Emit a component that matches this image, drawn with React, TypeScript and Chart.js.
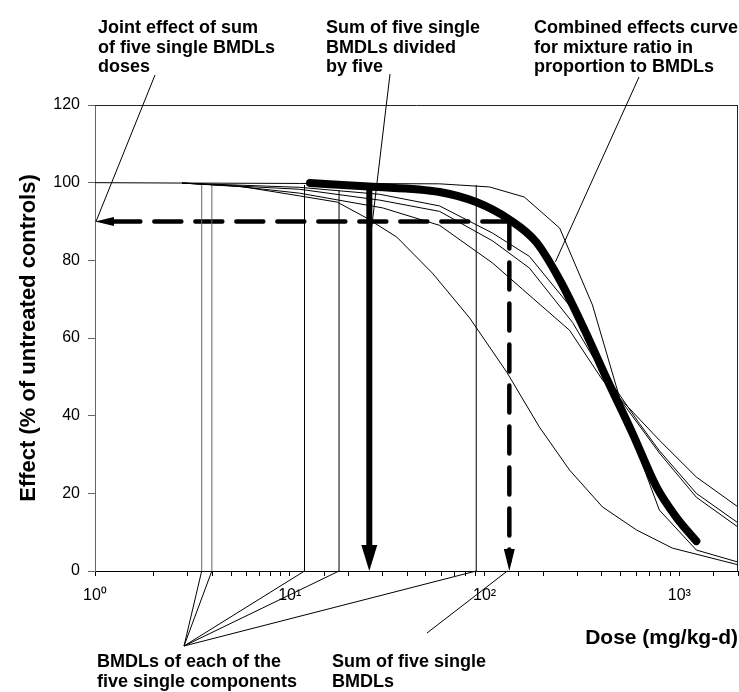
import React, { useEffect, useRef } from "react";
import { Chart, registerables } from "chart.js";

Chart.register(...registerables);

// ---- Data ----
// Five single-component dose-response curves (dose mg/kg-d, effect %)
const curveADose = [2.8, 5.5, 11.2, 17.5, 24.8, 35.4, 54, 84, 130, 191, 273, 403, 601, 920, 2000];
const curveAValue = [99.9, 99.1, 96.6, 95.0, 90.9, 86.0, 76.7, 65.1, 51.2, 37.1, 26.0, 16.5, 10.6, 5.9, 1.6];

const curveBDose = [2.8, 5.5, 11.2, 30, 58.8, 110, 157, 273, 403, 789, 1222, 2000];
const curveBValue = [99.9, 99.0, 97.3, 93.5, 89.0, 79.3, 72.5, 62.0, 49.2, 33.7, 24.2, 16.5];

const curveCDose = [2.8, 11.2, 29, 58.8, 110, 170, 283, 437, 623, 789, 1222, 2000];
const curveCValue = [99.9, 98.8, 97.0, 94.0, 87.0, 81.0, 67.4, 49.2, 38.0, 31.0, 20.0, 12.4];

const curveDDose = [2.8, 11.2, 29, 58.8, 110, 170, 283, 437, 789, 1222, 2000];
const curveDValue = [99.9, 98.3, 95.5, 92.6, 85.0, 78.0, 64.0, 48.0, 30.4, 19.0, 11.3];

const curveEDose = [1, 2.8, 11.2, 58.8, 106, 160, 243, 358, 535, 789, 1222, 2000];
const curveEValue = [100, 99.9, 99.8, 99.7, 98.9, 96.3, 88.3, 68.5, 38.6, 15.7, 5.4, 2.3];

// Combined effects curve for the mixture
const combinedDose = [12.7, 25.4, 58.8, 90.6, 134, 184, 243, 326, 422, 574, 764, 963, 1222];
const combinedValue = [99.9, 99.0, 97.6, 95.0, 90.5, 84.7, 75.0, 62.1, 49.7, 35.5, 21.6, 13.9, 7.7];

// BMDLs of the five single components (dose) and the effect reached by their drop lines
const bmdlDoses = [3.53, 3.98, 11.9, 17.9, 90.6];
const bmdlTops = [99.4, 99.4, 99.4, 98.1, 99.4];

// Sum of BMDLs, sum divided by five, and the joint effect level
const sumDose = 134;
const sumDiv5Dose = 25.6;
const sumDiv5Top = 99.3;
const jointEffect = 90;
const axisMinDose = 1;

// Ticks and labels
const xTickLabels = ["10\u2070", "10\u00B9", "10\u00B2", "10\u00B3"];
const yTickStep = 20;
const xTitle = "Dose (mg/kg-d)";
const yTitle = "Effect (% of untreated controls)";

// Annotation texts
const noteJoint = ["Joint effect of sum", "of five single BMDLs", "doses"];
const noteDiv5 = ["Sum of five single", "BMDLs divided", "by five"];
const noteCombined = ["Combined effects curve", "for mixture ratio in", "proportion to BMDLs"];
const noteBmdls = ["BMDLs of each of the", "five single components"];
const noteSum = ["Sum of five single", "BMDLs"];

function pts(d: number[], v: number[]) {
  return d.map((x, i) => ({ x, y: v[i] }));
}

export default function App() {
  const ref = useRef<HTMLCanvasElement>(null);

  useEffect(() => {
    if (!ref.current) return;
    Chart.defaults.font.family = "'Liberation Sans', Arial, Helvetica, sans-serif";

    const thin = (d: number[], v: number[], color = "#000") => ({
      data: pts(d, v),
      borderColor: color,
      borderWidth: 1,
      pointRadius: 0,
      tension: 0,
      fill: false,
    });

    const datasets: any[] = [
      thin(curveADose, curveAValue),
      thin(curveBDose, curveBValue),
      thin(curveCDose, curveCValue),
      thin(curveDDose, curveDValue),
      thin(curveEDose, curveEValue),
      ...bmdlDoses.map((d, i) => thin([d, d], [0, bmdlTops[i]], i < 2 ? "#666" : "#000")),
      {
        data: pts(combinedDose, combinedValue),
        borderColor: "#000",
        borderWidth: 8,
        cubicInterpolationMode: "monotone",
        borderCapStyle: "round",
        borderJoinStyle: "round",
        pointRadius: 0,
        fill: false,
      },
      {
        data: [
          { x: sumDiv5Dose, y: sumDiv5Top },
          { x: sumDiv5Dose, y: 3 },
        ],
        borderColor: "#000",
        borderWidth: 6,
        pointRadius: 0,
        fill: false,
      },
      {
        data: [
          { x: sumDose, y: jointEffect },
          { x: axisMinDose * 1.1, y: jointEffect },
        ],
        borderColor: "#000",
        borderWidth: 4.5,
        borderDash: [27, 14],
        borderCapStyle: "round",
        pointRadius: 0,
        fill: false,
      },
      {
        data: [
          { x: sumDose, y: jointEffect },
          { x: sumDose, y: 2.5 },
        ],
        borderColor: "#000",
        borderWidth: 4.5,
        borderDash: [27, 14],
        borderCapStyle: "round",
        pointRadius: 0,
        fill: false,
      },
    ];

    const arrow = (ctx: CanvasRenderingContext2D, tx: number, ty: number, dx: number, dy: number, len: number, hw: number) => {
      const bx = tx - dx * len;
      const by = ty - dy * len;
      const px = -dy;
      const py = dx;
      ctx.beginPath();
      ctx.moveTo(tx, ty);
      ctx.lineTo(bx + px * hw, by + py * hw);
      ctx.lineTo(bx - px * hw, by - py * hw);
      ctx.closePath();
      ctx.fill();
    };

    const line = (ctx: CanvasRenderingContext2D, x1: number, y1: number, x2: number, y2: number) => {
      ctx.beginPath();
      ctx.moveTo(x1, y1);
      ctx.lineTo(x2, y2);
      ctx.stroke();
    };

    const decor = {
      id: "decor",
      afterDraw(chart: any) {
        const { ctx, chartArea, scales } = chart;
        const xs = scales.x;
        const ys = scales.y;
        ctx.save();
        // frame top + right
        ctx.strokeStyle = "#222";
        ctx.lineWidth = 1;
        line(ctx, chartArea.left, chartArea.top + 0.5, chartArea.right, chartArea.top + 0.5);
        line(ctx, chartArea.right - 0.5, chartArea.top, chartArea.right - 0.5, chartArea.bottom);

        ctx.fillStyle = "#000";
        // arrowheads
        arrow(ctx, xs.getPixelForValue(axisMinDose), ys.getPixelForValue(jointEffect), -1, 0, 19, 4.5);
        arrow(ctx, xs.getPixelForValue(sumDiv5Dose), ys.getPixelForValue(0), 0, 1, 26, 8);
        arrow(ctx, xs.getPixelForValue(sumDose), ys.getPixelForValue(0), 0, 1, 22, 5.5);

        // leader lines
        ctx.strokeStyle = "#000";
        ctx.lineWidth = 1;
        line(ctx, 155, 75, xs.getPixelForValue(axisMinDose) + 1, ys.getPixelForValue(jointEffect));
        line(ctx, 390, 74, xs.getPixelForValue(26.3), ys.getPixelForValue(88.3));
        line(ctx, 639, 77, xs.getPixelForValue(231), ys.getPixelForValue(79.6));
        bmdlDoses.forEach((d) => line(ctx, 184, 646, xs.getPixelForValue(d), ys.getPixelForValue(0)));
        line(ctx, 427, 633, xs.getPixelForValue(sumDose) - 2, ys.getPixelForValue(0));

        // annotation texts
        ctx.font = "bold 18px 'Liberation Sans', Arial, sans-serif";
        ctx.textAlign = "left";
        ctx.textBaseline = "alphabetic";
        const block = (lines: string[], x: number, y0: number, lh: number) =>
          lines.forEach((t, i) => ctx.fillText(t, x, y0 + i * lh));
        block(noteJoint, 98, 33, 19.5);
        block(noteDiv5, 326, 33, 19.5);
        block(noteCombined, 534, 33, 19.5);
        block(noteBmdls, 97, 667, 19.5);
        block(noteSum, 332, 667, 19.5);
        ctx.restore();
      },
    };

    const chart = new Chart(ref.current, {
      type: "line",
      data: { datasets },
      plugins: [decor],
      options: {
        animation: false,
        responsive: false,
        layout: { padding: { top: 105, right: 1, left: 0, bottom: 0 } },
        plugins: { legend: { display: false }, tooltip: { enabled: false } },
        scales: {
          x: {
            type: "logarithmic",
            min: 1,
            max: 2000,
            afterFit: (s: any) => {
              s.height = 121;
              s.paddingLeft = 0;
              s.paddingRight = 0;
            },
            border: { display: true, color: "#000", width: 1 },
            grid: { drawOnChartArea: false, drawTicks: true, tickLength: 5, tickColor: "#000" },
            ticks: {
              autoSkip: false,
              maxRotation: 0,
              minRotation: 0,
              padding: 10,
              color: "#000",
              font: { size: 16 },
              callback: (v: any) => {
                const p = Math.log10(Number(v));
                const r = Math.round(p);
                return Math.abs(p - r) < 1e-9 ? xTickLabels[r] : "";
              },
            },
            title: {
              display: true,
              text: xTitle,
              align: "end",
              color: "#000",
              font: { size: 21, weight: "bold" },
              padding: { top: 0, bottom: 41 },
            },
          },
          y: {
            min: 0,
            max: 120,
            afterFit: (s: any) => {
              s.width = 95;
              s.paddingTop = 0;
              s.paddingBottom = 0;
            },
            border: { display: true, color: "#666", width: 1 },
            grid: { drawOnChartArea: false, drawTicks: true, tickLength: 7, tickColor: "#666" },
            ticks: { stepSize: yTickStep, padding: 8, color: "#000", font: { size: 16 } },
            title: {
              display: true,
              text: yTitle,
              color: "#000",
              font: { size: 22, weight: "bold" },
              padding: { top: 16, bottom: 0 },
            },
          },
        },
      } as any,
    });
    return () => chart.destroy();
  }, []);

  return (
    <div style={{ position: "fixed", left: 0, top: 0, width: 739, height: 692, background: "#fff" }}>
      <canvas ref={ref} width={739} height={692} style={{ display: "block" }} />
    </div>
  );
}
